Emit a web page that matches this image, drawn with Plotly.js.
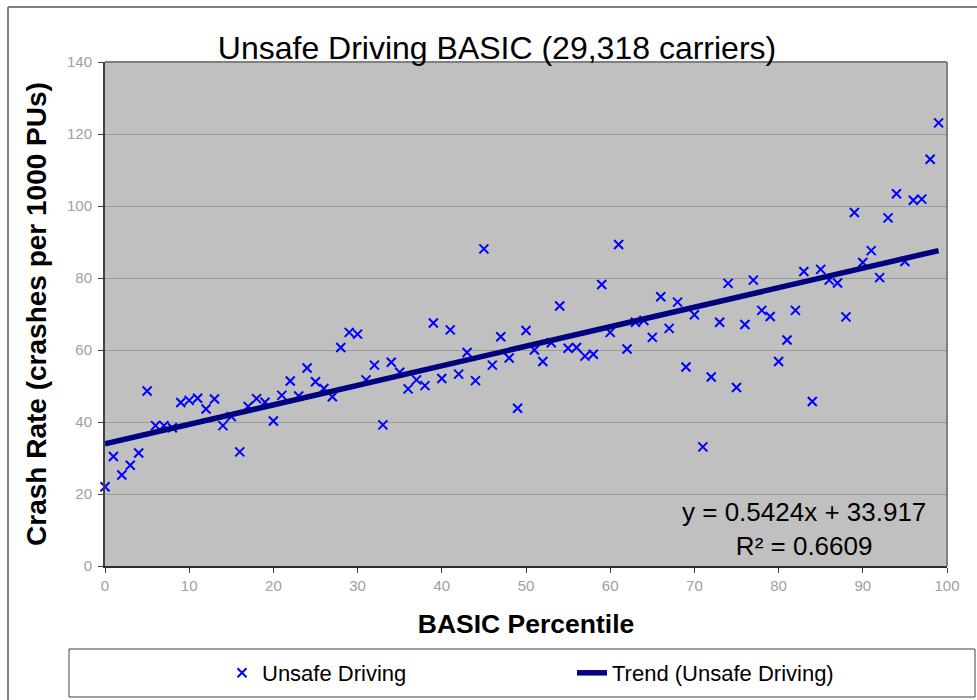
<!DOCTYPE html>
<html>
<head>
<meta charset="utf-8">
<script src="https://cdn.plot.ly/plotly-3.0.1.min.js"></script>
<style>
  html, body { margin: 0; padding: 0; background: #ffffff; }
  #chart { width: 977px; height: 700px; }
</style>
</head>
<body>
<div id="chart"></div>
<script>
// ---- Data ----
const percentile = [
  0, 1, 2, 3, 4, 5, 6, 7, 8, 9,
  10, 11, 12, 13, 14, 15, 16, 17, 18, 19,
  20, 21, 22, 23, 24, 25, 26, 27, 28, 29,
  30, 31, 32, 33, 34, 35, 36, 37, 38, 39,
  40, 41, 42, 43, 44, 45, 46, 47, 48, 49,
  50, 51, 52, 53, 54, 55, 56, 57, 58, 59,
  60, 61, 62, 63, 64, 65, 66, 67, 68, 69,
  70, 71, 72, 73, 74, 75, 76, 77, 78, 79,
  80, 81, 82, 83, 84, 85, 86, 87, 88, 89,
  90, 91, 92, 93, 94, 95, 96, 97, 98, 99
];
const crashRate = [
  22.0, 30.4, 25.3, 28.0, 31.4, 48.6, 39.0, 39.0, 38.4, 45.4,
  46.0, 46.6, 43.6, 46.4, 39.0, 41.5, 31.7, 44.3, 46.5, 45.5,
  40.3, 47.4, 51.4, 47.2, 55.0, 51.2, 49.3, 47.0, 60.7, 64.9,
  64.4, 51.7, 55.8, 39.2, 56.6, 53.8, 49.2, 51.7, 50.1, 67.5,
  52.1, 65.6, 53.3, 59.3, 51.5, 88.1, 55.8, 63.7, 57.8, 43.8,
  65.4, 60.0, 56.8, 62.0, 72.2, 60.5, 60.7, 58.3, 58.8, 78.2,
  64.9, 89.3, 60.3, 67.7, 68.2, 63.5, 74.8, 66.0, 73.3, 55.3,
  69.8, 33.1, 52.5, 67.7, 78.5, 49.6, 67.1, 79.4, 71.0, 69.3,
  56.8, 62.8, 71.0, 81.8, 45.7, 82.4, 79.4, 78.6, 69.2, 98.2,
  84.3, 87.6, 80.1, 96.7, 103.4, 84.6, 101.6, 101.9, 113.0, 123.1
];
const trendSlope = 0.5424;
const trendIntercept = 33.917;
const trendR2 = 0.6609;
const xTicks = [0, 10, 20, 30, 40, 50, 60, 70, 80, 90, 100];
const yTicks = [0, 20, 40, 60, 80, 100, 120, 140];

const chartTitle = 'Unsafe Driving BASIC (29,318 carriers)';
const xTitle = 'BASIC Percentile';
const yTitle = 'Crash Rate (crashes per 1000 PUs)';
const seriesName = 'Unsafe Driving';
const trendName = 'Trend (Unsafe Driving)';

// Trend line endpoints from the fitted equation over the data range
const xMin = Math.min.apply(null, percentile);
const xMax = Math.max.apply(null, percentile);
const trendX = [xMin, xMax];
const trendY = trendX.map(v => trendSlope * v + trendIntercept);

const FONT = 'Liberation Sans, Arial, Helvetica, sans-serif';

// plot-area pixel geometry (for paper-coordinate conversions)
const W = 977, H = 700, ML = 105, MR = 30, MT = 62, MB = 134;
const PW = W - ML - MR, PH = H - MT - MB;
const px = x => (x - ML) / PW;
const py = y => (H - MB - y) / PH;

const traces = [
  {
    type: 'scatter',
    mode: 'markers',
    name: seriesName,
    x: percentile,
    y: crashRate,
    marker: {
      symbol: 'x-thin',
      size: 9,
      color: '#0000ff',
      line: { color: '#0000ff', width: 2 }
    },
    cliponaxis: false
  },
  {
    type: 'scatter',
    mode: 'lines',
    name: trendName,
    x: trendX,
    y: trendY,
    line: { color: '#000080', width: 5.5 }
  }
];

const layout = {
  width: W,
  height: H,
  margin: { l: ML, r: MR, t: MT, b: MB, pad: 0, autoexpand: false },
  paper_bgcolor: '#ffffff',
  plot_bgcolor: '#c0c0c0',
  font: { family: FONT, color: '#000000' },
  title: {
    text: chartTitle,
    font: { family: FONT, size: 32, color: '#000000' },
    xref: 'paper',
    x: px(497),
    xanchor: 'center',
    yref: 'container',
    y: 1 - 48 / H,
    yanchor: 'middle'
  },
  xaxis: {
    range: [0, 100],
    tickvals: xTicks,
    ticktext: xTicks.map(String),
    ticks: 'outside',
    ticklen: 5,
    tickwidth: 1,
    tickcolor: '#404040',
    tickfont: { family: FONT, size: 15, color: '#a0a0a0' },
    showgrid: false,
    zeroline: false,
    showline: true,
    linecolor: '#303030',
    linewidth: 2,
    automargin: false,
    fixedrange: true,
    title: {
      text: xTitle,
      font: { family: FONT, size: 26.5, color: '#000000', weight: 'bold' },
      standoff: 21
    }
  },
  yaxis: {
    range: [0, 140],
    tickvals: yTicks,
    ticktext: yTicks.map(String),
    ticks: 'outside',
    ticklen: 5,
    tickwidth: 1,
    tickcolor: '#404040',
    tickfont: { family: FONT, size: 15, color: '#a0a0a0' },
    showgrid: true,
    gridcolor: '#9a9a9a',
    gridwidth: 1,
    zeroline: false,
    showline: true,
    linecolor: '#404040',
    linewidth: 2,
    ticklabelstandoff: 3,
    automargin: false,
    fixedrange: true,
    title: {
      text: yTitle,
      font: { family: FONT, size: 28, color: '#000000', weight: 'bold' },
      standoff: 12
    }
  },
  showlegend: true,
  legend: {
    orientation: 'h',
    xref: 'container',
    yref: 'container',
    x: 222 / W,
    xanchor: 'left',
    y: 1 - 673 / H,
    yanchor: 'middle',
    bgcolor: 'rgba(0,0,0,0)',
    borderwidth: 0,
    font: { family: FONT, size: 22, color: '#000000' },
    entrywidth: 305,
    entrywidthmode: 'pixels',
    itemclick: false,
    itemdoubleclick: false
  },
  annotations: [
    {
      xref: 'paper', yref: 'paper',
      x: px(804), y: py(529),
      xanchor: 'center', yanchor: 'middle',
      align: 'center',
      showarrow: false,
      text: 'y = ' + trendSlope + 'x + ' + trendIntercept + '<br>R² = ' + trendR2,
      font: { family: FONT, size: 26, color: '#000000' }
    }
  ],
  shapes: [
    // plot-area top and right border
    { type: 'line', xref: 'paper', yref: 'paper', x0: 0, x1: 1, y0: 1, y1: 1,
      line: { color: '#808080', width: 2 } },
    { type: 'line', xref: 'paper', yref: 'paper', x0: 1, x1: 1, y0: 0, y1: 1,
      line: { color: '#808080', width: 2 } },
    // outer chart frame (left and top)
    { type: 'line', xref: 'paper', yref: 'paper', x0: px(8), x1: px(8), y0: py(7), y1: py(702),
      line: { color: '#808080', width: 2 } },
    { type: 'line', xref: 'paper', yref: 'paper', x0: px(8), x1: px(980), y0: py(7), y1: py(7),
      line: { color: '#808080', width: 2 } },
    // legend box
    { type: 'rect', xref: 'paper', yref: 'paper', x0: px(69), x1: px(975), y0: py(649), y1: py(697),
      line: { color: '#404040', width: 1 }, fillcolor: 'rgba(0,0,0,0)' }
  ]
};

Plotly.newPlot('chart', traces, layout, { displayModeBar: false, responsive: false });
</script>
</body>
</html>
